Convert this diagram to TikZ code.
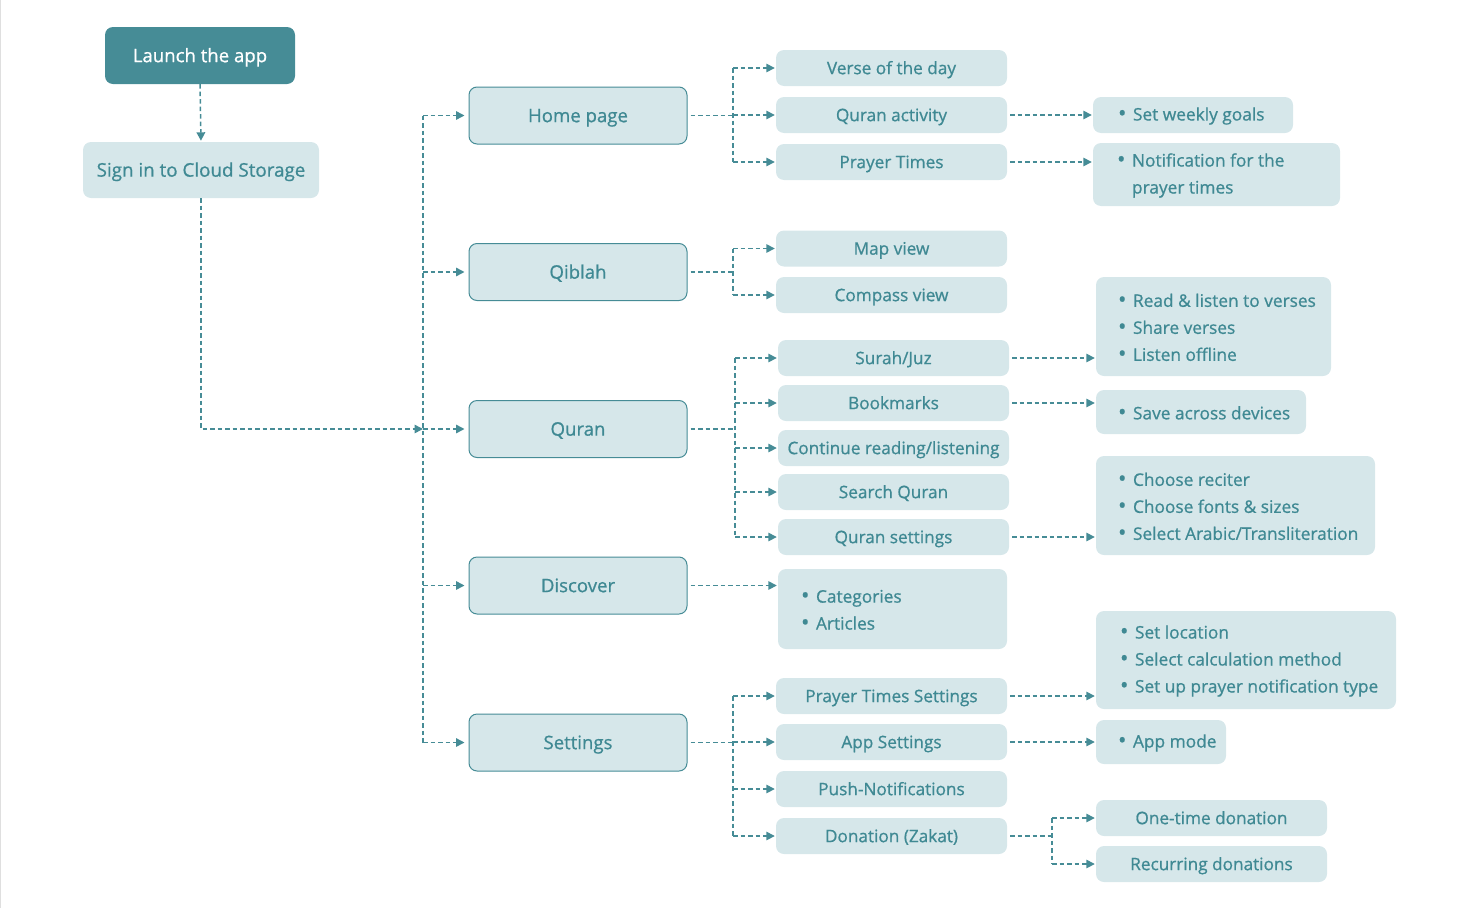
\documentclass[tikz,border=0pt]{standalone}
\usepackage{fontspec}
\setmainfont{Open Sans}[FakeBold=0.8]
\usetikzlibrary{arrows.meta}
\definecolor{tealD}{HTML}{468C96}
\definecolor{tealL}{HTML}{D6E7EA}
\definecolor{tealT}{HTML}{3F8993}
\newcommand{\itm}{\makebox[15pt][l]{\raisebox{-0.05ex}{\scalebox{1.3}{•}}}}
\newcommand{\hng}{\hspace*{15pt}}
\tikzset{
  base/.style={rounded corners=8pt, fill=tealL, text=tealT, inner sep=0pt, text height=13.3pt, text depth=0pt},
  mainbox/.style={base, draw=tealD, line width=1pt, minimum width=218pt, minimum height=57pt,
    font=\fontsize{18.6}{22}\selectfont},
  subbox/.style={base, text height=12.3pt, minimum width=231pt, minimum height=36pt, font=\fontsize{17.2}{20}\selectfont},
  listbox/.style={rounded corners=8pt, fill=tealL, inner sep=0pt},
  listtext/.style={anchor=west, align=left, text=tealT, inner sep=0pt, yshift=-1pt, font=\fontsize{17.3}{27}\selectfont},
  dsh/.style={draw=tealD, line width=1.5pt, dash pattern=on 4.5pt off 3pt},
  arr/.style={dsh, -{Triangle[length=8.5pt,width=8.5pt]}},
}
\begin{document}
\begin{tikzpicture}[x=1pt,y=-1pt]
\useasboundingbox (0,0) rectangle (1470,908);
\draw[gray!25, line width=1pt] (0.5,0) -- (0.5,908);

% left column
\node[base, fill=tealD, text=white, minimum width=190pt, minimum height=57pt,
  font=\fontsize{18.6}{22}\selectfont] (launch) at (200,55.5) {Launch the app};
\node[base, minimum width=236pt, minimum height=56pt, font=\fontsize{18.8}{22}\selectfont]
  (signin) at (201,170) {Sign in to Cloud Storage};

% main column
\node[mainbox] (home) at (578,115.5) {Home page};
\node[mainbox] (qiblah) at (578,272) {Qiblah};
\node[mainbox] (quran) at (578,429) {Quran};
\node[mainbox] (discover) at (578,585.5) {Discover};
\node[mainbox] (settings) at (578,742.5) {Settings};

% sub column
\node[subbox] (verse) at (891.5,68) {Verse of the day};
\node[subbox] (activity) at (891.5,115) {Quran activity};
\node[subbox] (prayer) at (891.5,162) {Prayer Times};
\node[subbox] (map) at (891.5,248.5) {Map view};
\node[subbox] (compass) at (891.5,295) {Compass view};
\node[subbox] (surah) at (893.5,358) {Surah/Juz};
\node[subbox] (bookmarks) at (893.5,403) {Bookmarks};
\node[subbox] (continue) at (893.5,448) {Continue reading/listening};
\node[subbox] (search) at (893.5,492) {Search Quran};
\node[subbox] (qset) at (893.5,537) {Quran settings};
\node[listbox, minimum width=229pt, minimum height=80pt] (dlist) at (892.5,609) {};
\node[listtext] (dlistT) at ([xshift=23pt]dlist.west) {\itm Categories\\\itm Articles};
\node[subbox] (pts) at (891.5,696) {Prayer Times Settings};
\node[subbox] (appset) at (891.5,742) {App Settings};
\node[subbox] (push) at (891.5,789) {Push-Notifications};
\node[subbox] (donation) at (891.5,836) {Donation (Zakat)};

% right column
\node[listbox, minimum width=200pt, minimum height=36pt] (weekly) at (1193,115) {};
\node[listtext] (weeklyT) at ([xshift=25pt]weekly.west) {\itm Set weekly goals};
\node[listbox, minimum width=247pt, minimum height=63pt] (notif) at (1216.5,174.5) {};
\node[listtext] (notifT) at ([xshift=24pt]notif.west) {\itm Notification for the\\\hng prayer times};
\node[listbox, minimum width=235pt, minimum height=99pt] (read) at (1213.5,326.5) {};
\node[listtext] (readT) at ([xshift=22pt]read.west) {\itm Read \& listen to verses\\\itm Share verses\\\itm Listen offline};
\node[listbox, minimum width=210pt, minimum height=44pt] (save) at (1201,412) {};
\node[listtext] (saveT) at ([xshift=22pt]save.west) {\itm Save across devices};
\node[listbox, minimum width=279pt, minimum height=99pt] (choose) at (1235.5,505.5) {};
\node[listtext] (chooseT) at ([xshift=22pt]choose.west) {\itm Choose reciter\\\itm Choose fonts \& sizes\\\itm Select Arabic/Transliteration};
\node[listbox, minimum width=300pt, minimum height=98pt] (setloc) at (1246,660) {};
\node[listtext] (setlocT) at ([xshift=24pt]setloc.west) {\itm Set location\\\itm Select calculation method\\\itm Set up prayer notification type};
\node[listbox, minimum width=130pt, minimum height=44pt] (appmode) at (1161,742) {};
\node[listtext] (appmodeT) at ([xshift=22pt]appmode.west) {\itm App mode};
\node[subbox] (onetime) at (1211.5,818) {One-time donation};
\node[subbox] (recurring) at (1211.5,864) {Recurring donations};

% connectors
\coordinate (tx) at (423,0);
\coordinate (hx) at (733,0);
\coordinate (qx) at (735,0);
\coordinate (dx) at (1052,0);

\draw[arr, shorten >=1pt] (launch.south) -- (signin.north);
\draw[arr] (signin.south) |- (quran.west -| tx);
\draw[dsh] (home.west -| tx) -- (settings.west -| tx);
\foreach \n in {home,qiblah,quran,discover,settings}
  \draw[arr, shorten >=4pt] (\n.west -| tx) -- (\n.west);

% home
\draw[dsh, shorten <=3pt] (home.east) -- (home.east -| hx);
\draw[dsh] (verse.west -| hx) -- (prayer.west -| hx);
\foreach \n in {verse,activity,prayer}
  \draw[arr, shorten >=1pt] (\n.west -| hx) -- (\n.west);
% qiblah
\draw[dsh, shorten <=3pt] (qiblah.east) -- (qiblah.east -| hx);
\draw[dsh] (map.west -| hx) -- (compass.west -| hx);
\foreach \n in {map,compass}
  \draw[arr, shorten >=1pt] (\n.west -| hx) -- (\n.west);
% quran
\draw[dsh, shorten <=3pt] (quran.east) -- (quran.east -| qx);
\draw[dsh] (surah.west -| qx) -- (qset.west -| qx);
\foreach \n in {surah,bookmarks,continue,search,qset}
  \draw[arr, shorten >=1pt] (\n.west -| qx) -- (\n.west);
% discover
\draw[arr, shorten <=3pt, shorten >=1pt] (discover.east) -- (discover.east -| dlist.west);
% settings
\draw[dsh, shorten <=3pt] (settings.east) -- (settings.east -| hx);
\draw[dsh] (pts.west -| hx) -- (donation.west -| hx);
\foreach \n in {pts,appset,push,donation}
  \draw[arr, shorten >=1pt] (\n.west -| hx) -- (\n.west);

% right arrows
\draw[arr, shorten <=3pt, shorten >=1pt] (activity.east) -- (weekly.west |- activity.east);
\draw[arr, shorten <=3pt, shorten >=1pt] (prayer.east) -- (notif.west |- prayer.east);
\draw[arr, shorten <=3pt, shorten >=1pt] (surah.east) -- (read.west |- surah.east);
\draw[arr, shorten <=3pt, shorten >=1pt] (bookmarks.east) -- (save.west |- bookmarks.east);
\draw[arr, shorten <=3pt, shorten >=1pt] (qset.east) -- (choose.west |- qset.east);
\draw[arr, shorten <=3pt, shorten >=1pt] (pts.east) -- (setloc.west |- pts.east);
\draw[arr, shorten <=3pt, shorten >=1pt] (appset.east) -- (appmode.west |- appset.east);
\draw[dsh, shorten <=3pt] (donation.east) -- (donation.east -| dx);
\draw[dsh] (onetime.west -| dx) -- (recurring.west -| dx);
\foreach \n in {onetime,recurring}
  \draw[arr, shorten >=1pt] (\n.west -| dx) -- (\n.west);
\end{tikzpicture}
\end{document}
